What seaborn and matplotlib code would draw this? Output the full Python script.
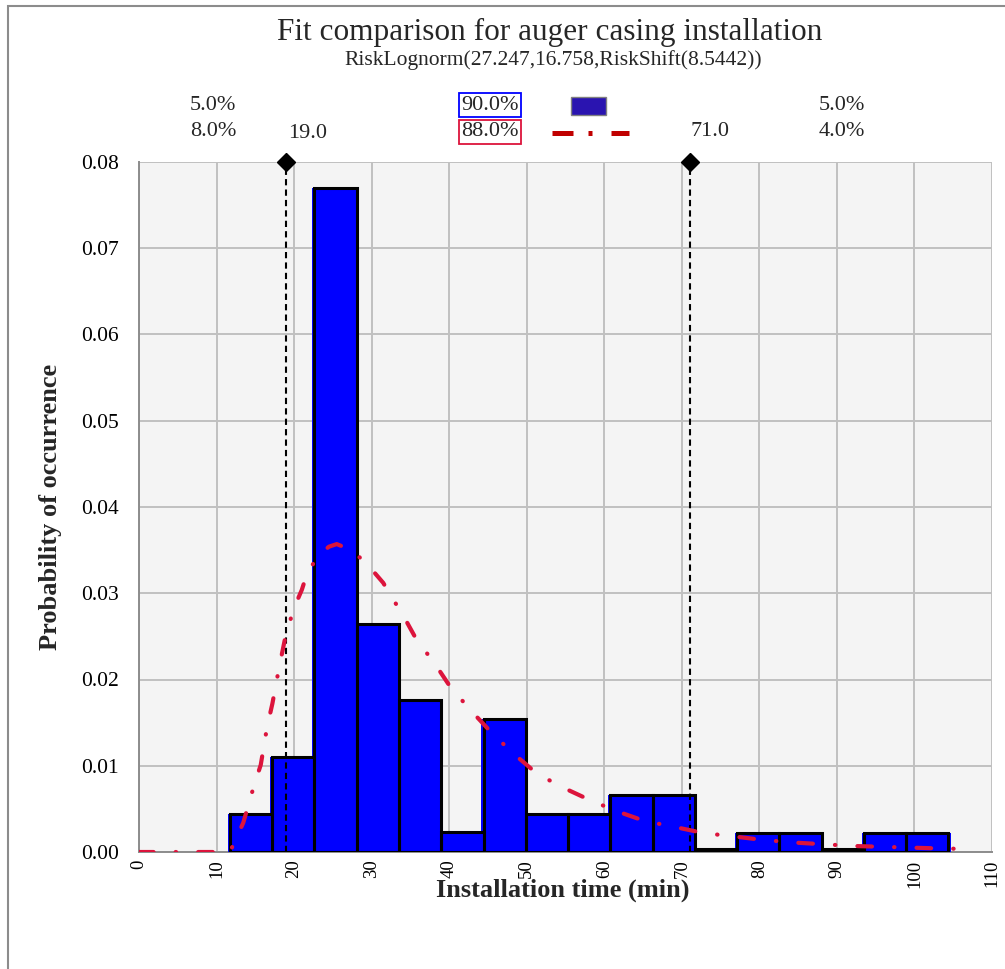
import numpy as np
import pandas as pd
import seaborn as sns
import matplotlib.pyplot as plt
from matplotlib.patches import Rectangle
from matplotlib.lines import Line2D

# Histogram of observed installation times (density per bin)
bin_edges = [11.73, 17.18, 22.63, 28.08, 33.53, 38.98, 44.43, 49.88, 55.33,
             60.78, 66.23, 71.68, 77.13, 82.58, 88.03, 93.48, 98.93, 104.38]
bin_density = [0.0044, 0.0110, 0.0770, 0.0264, 0.0176, 0.0023, 0.0154, 0.0044,
               0.0044, 0.0066, 0.0066, 0.0003, 0.0022, 0.0022, 0.0003, 0.0022,
               0.0022]

# Fitted shifted lognormal density
fit_x = [0.0, 5.0, 10.0, 11.7, 12.3, 13.45, 14.8, 15.7, 16.5, 17.2, 18.05,
         18.8, 19.9, 21.0, 21.6, 23.1, 24.5, 25.5, 27.4, 29.4, 31.5, 32.4,
         33.9, 35.8, 38.1, 40.1, 42.8, 45.5, 48.3, 51.3, 54.6, 58.2, 61.7,
         65.2, 69.1, 72.8, 76.7, 80.5, 84.4, 88.2, 92.1, 96.0, 99.8, 103.7,
         107.6]
fit_y = [0.0, 0.0, 0.0, 0.0, 0.0011, 0.0034, 0.0076, 0.0101, 0.0144, 0.0172,
         0.0213, 0.0246, 0.0281, 0.0304, 0.0321, 0.0344, 0.0354, 0.0357,
         0.0350, 0.0334, 0.0312, 0.0298, 0.0277, 0.0246, 0.0219, 0.0192,
         0.0164, 0.0138, 0.0114, 0.0091, 0.0075, 0.0060, 0.0047, 0.0036,
         0.0029, 0.0022, 0.0018, 0.0014, 0.0011, 0.0009, 0.0007, 0.0006,
         0.0005, 0.0004, 0.00035]

# Delimiters and probabilities shown above the plot
delimiters = [19.0, 71.0]
left_pct = ["5.0%", "8.0%"]
mid_pct = ["90.0%", "88.0%"]
right_pct = ["5.0%", "4.0%"]

x_ticks = list(range(0, 111, 10))
y_ticks = [0.00, 0.01, 0.02, 0.03, 0.04, 0.05, 0.06, 0.07, 0.08]

W, H = 1005, 969
sns.set_theme(style="whitegrid")
plt.rcParams["font.family"] = ["Liberation Serif", "DejaVu Serif"]
plt.rcParams["axes.unicode_minus"] = False

fig = plt.figure(figsize=(W / 100, H / 100), dpi=100)
fig.patch.set_facecolor("white")


def fx(px):
    return px / W


def fy(py):
    return 1 - py / H


ax = fig.add_axes([fx(139), fy(852), fx(992) - fx(139), fy(162) - fy(852)])
ax.set_facecolor("#F4F4F4")

centers = [(a + b) / 2 for a, b in zip(bin_edges[:-1], bin_edges[1:])]
hist_df = pd.DataFrame({"time": centers, "density": bin_density})

# blue fill, slightly wider than the outlines
sns.histplot(data=hist_df, x="time", weights="density", bins=bin_edges,
             stat="count", element="bars", fill=True, shrink=1.1,
             color="#0000FF", alpha=1, linewidth=0, ax=ax, zorder=3)
# black bar outlines
sns.histplot(data=hist_df, x="time", weights="density", bins=bin_edges,
             stat="count", element="bars", fill=False, color="black",
             linewidth=2.2, ax=ax, zorder=4)

# fitted curve
n_before = len(ax.lines)
sns.lineplot(x=fit_x, y=fit_y, color="#DC143C", linewidth=3.0, sort=False,
             linestyle=(0, (3.5, 5.3, 0.1, 5.3)), dash_capstyle="round",
             ax=ax)
for ln in ax.lines[n_before:]:
    ln.set_zorder(8)

for d in delimiters:
    ax.axvline(d, color="black", linewidth=1.5, linestyle=(0, (3, 2)),
               zorder=5)
    ax.plot([d], [0.08], marker="D", markersize=9.5, color="black",
            clip_on=False, zorder=9)

ax.set_xlim(0, 110)
ax.set_ylim(0, 0.08)
ax.set_xticks(x_ticks)
ax.set_yticks(y_ticks)
ax.set_xticklabels([str(t) for t in x_ticks], rotation=90, fontsize=13.5)
ax.set_yticklabels([f"{t:.2f}" for t in y_ticks], fontsize=15.5)
ax.grid(True, color="#C0C0C0", linewidth=1.4)
ax.set_axisbelow(True)
for side in ["top", "right"]:
    ax.spines[side].set_visible(False)
for side in ["left", "bottom"]:
    ax.spines[side].set_color("#8C8C8C")
    ax.spines[side].set_linewidth(1.4)
    ax.spines[side].set_zorder(2)
ax.tick_params(axis="both", which="major", direction="out", length=4.5,
               width=1.2, color="#8C8C8C", labelcolor="black")
ax.tick_params(axis="y", pad=10)
ax.tick_params(axis="x", pad=1)

ax.set_xlabel("Installation time (min)", fontsize=19, fontweight="bold")
ax.xaxis.set_label_coords((563 - 139) / 853, (852 - 879) / 690)
ax.set_ylabel("Probability of occurrence", fontsize=19, fontweight="bold",
              labelpad=14)

# titles
fig.text(fx(550), fy(32), "Fit comparison for auger casing installation",
         ha="center", va="center", fontsize=22.5)
fig.text(fx(553), fy(60), "RiskLognorm(27.247,16.758,RiskShift(8.5442))",
         ha="center", va="center", fontsize=15.5)

# probability header
fs = 16
fig.text(fx(213), fy(105), left_pct[0], ha="center", va="center", fontsize=fs)
fig.text(fx(213), fy(131), left_pct[1], ha="center", va="center", fontsize=fs)
fig.text(fx(842), fy(105), right_pct[0], ha="center", va="center", fontsize=fs)
fig.text(fx(842), fy(131), right_pct[1], ha="center", va="center", fontsize=fs)
fig.text(fx(288), fy(133), f"{delimiters[0]:.1f}", ha="left", va="center",
         fontsize=fs)
fig.text(fx(710), fy(131), f"{delimiters[1]:.1f}", ha="center", va="center",
         fontsize=fs)
fig.text(fx(490), fy(105), mid_pct[0], ha="center", va="center", fontsize=fs,
         bbox=dict(boxstyle="square,pad=0.12", fc="white", ec="#0000FF",
                   lw=1.3))
fig.text(fx(490), fy(132), mid_pct[1], ha="center", va="center", fontsize=fs,
         bbox=dict(boxstyle="square,pad=0.12", fc="white", ec="#DC143C",
                   lw=1.3))

# series keys
fig.add_artist(Rectangle((fx(571), fy(115)), fx(606) - fx(571),
                         fy(97) - fy(115), transform=fig.transFigure,
                         facecolor="#2A14B0", edgecolor="#808080", lw=1.0))
fig.add_artist(Line2D([fx(552), fx(629)], [fy(133), fy(133)],
                      transform=fig.transFigure, color="#C00000",
                      linewidth=3.6, solid_capstyle="butt",
                      dash_capstyle="butt",
                      linestyle=(0, (4.2, 3.0, 0.8, 3.8))))

# outer frame
fig.add_artist(Rectangle((fx(8), -0.1), 1.2, fy(6) + 0.1,
                         transform=fig.transFigure, fill=False,
                         edgecolor="#8C8C8C", lw=1.5))

fig.savefig("out.png", dpi=100)
